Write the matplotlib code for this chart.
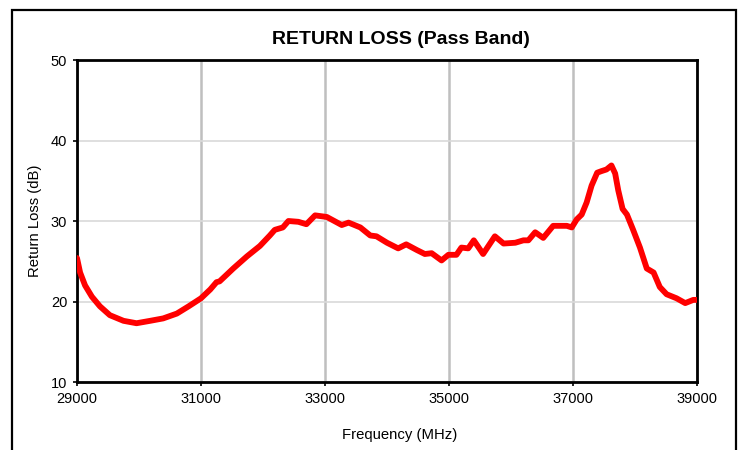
import matplotlib
matplotlib.use('Agg')
import matplotlib.pyplot as plt
from matplotlib.patches import Rectangle

# frequency (MHz) and return loss (dB)
freq = [29000, 29050, 29130, 29240, 29370, 29530, 29750, 29960, 30180, 30390,
        30610, 30800, 31000, 31150, 31250, 31300, 31520, 31740, 31950, 32110,
        32190, 32320, 32410, 32570, 32700, 32840, 33030, 33270, 33380, 33570,
        33730, 33830, 34000, 34180, 34310, 34480, 34610, 34720, 34880, 34990,
        35120, 35200, 35310, 35400, 35550, 35740, 35880, 36070, 36200, 36280,
        36390, 36520, 36680, 36790, 36900, 36980, 37060, 37140, 37220, 37300,
        37390, 37460, 37540, 37620, 37680, 37730, 37800, 37870, 37970, 38080,
        38190, 38300, 38400, 38510, 38670, 38810, 38940, 39000]
rl = [25.4, 23.6, 22.0, 20.6, 19.4, 18.3, 17.6, 17.3, 17.6, 17.9,
      18.5, 19.4, 20.4, 21.5, 22.4, 22.5, 24.1, 25.6, 26.9, 28.2,
      28.9, 29.2, 30.0, 29.9, 29.6, 30.7, 30.5, 29.5, 29.8, 29.2,
      28.2, 28.1, 27.3, 26.6, 27.1, 26.4, 25.9, 26.0, 25.1, 25.8,
      25.8, 26.7, 26.6, 27.6, 25.9, 28.1, 27.2, 27.3, 27.6, 27.6,
      28.6, 27.9, 29.4, 29.4, 29.4, 29.2, 30.2, 30.8, 32.3, 34.4,
      36.0, 36.2, 36.4, 36.9, 35.9, 33.8, 31.5, 30.8, 28.9, 26.7,
      24.1, 23.6, 21.8, 20.9, 20.4, 19.8, 20.2, 20.2]

xticks = [29000, 31000, 33000, 35000, 37000, 39000]
yticks = [10, 20, 30, 40, 50]

plt.rcParams['font.family'] = ['Liberation Sans', 'DejaVu Sans']

W, H = 749, 450
fig = plt.figure(figsize=(7.49, 4.5), dpi=100)
ax = fig.add_axes([77 / W, 1 - 382 / H, 620 / W, 322 / H])

ax.plot(freq, rl, color='#FF0000', linewidth=4.2, solid_joinstyle='round',
        solid_capstyle='round', zorder=3)

ax.set_xlim(29000, 39000)
ax.set_ylim(10, 50)
ax.set_xticks(xticks)
ax.set_yticks(yticks)
ax.tick_params(axis='both', direction='out', length=3, width=1.2, labelsize=10.5, color='black')
ax.tick_params(axis='x', pad=4)
ax.tick_params(axis='y', pad=4)

ax.grid(axis='x', color='#BFBFBF', linewidth=1.8)
ax.grid(axis='y', color='#D9D9D9', linewidth=1.2)
ax.set_axisbelow(True)
for s in ax.spines.values():
    s.set_linewidth(2)
    s.set_color('black')

fig.text(401 / W, 1 - 40 / H, 'RETURN LOSS (Pass Band)', ha='center', va='center',
         fontsize=14, fontweight='bold')
fig.text(400 / W, 1 - 435 / H, 'Frequency (MHz)', ha='center', va='center', fontsize=10.7)
fig.text(35 / W, 1 - 221 / H, 'Return Loss (dB)', ha='center', va='center',
         rotation=90, fontsize=10.7)

# outer chart border
fig.patches.append(Rectangle((12 / W, -0.05), 724 / W, 1.05 - 10 / H,
                             transform=fig.transFigure, fill=False,
                             edgecolor='black', linewidth=1.6))

fig.savefig('out.png', dpi=100)
